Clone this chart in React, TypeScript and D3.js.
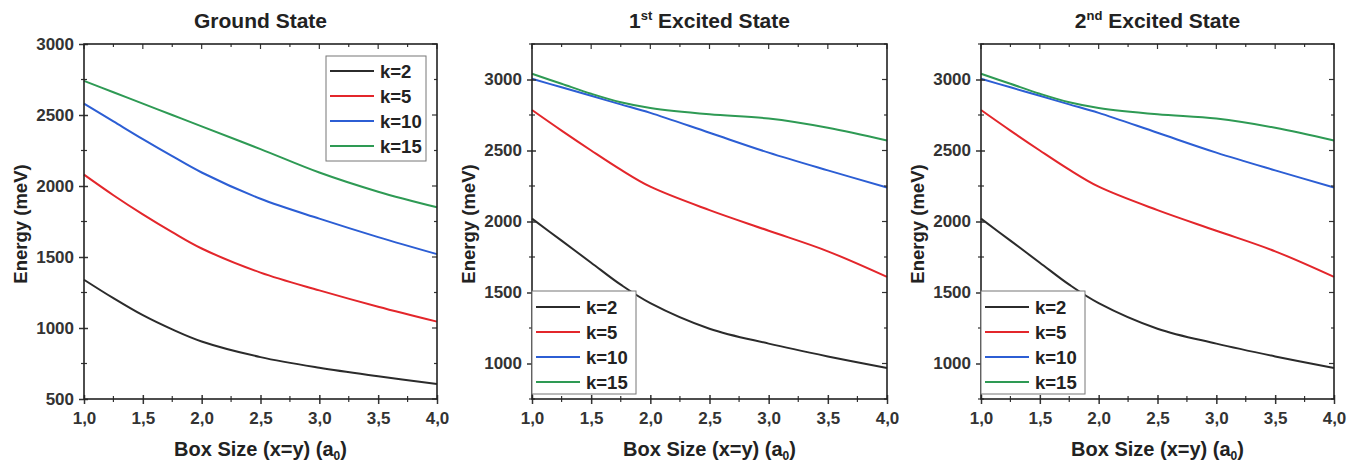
import React, { useEffect, useRef } from "react";
import * as d3 from "d3";

// box size (a0) sample points
const boxSize = [1, 1.25, 1.5, 1.75, 2, 2.5, 3, 3.5, 4];
const kLabels = ["k=2", "k=5", "k=10", "k=15"];
const kColors = ["#2b2b2b", "#e3262b", "#2c5ed4", "#2e9a54"];
const xTicks = [1, 1.5, 2, 2.5, 3, 3.5, 4];

// Ground state energies (meV)
const groundK2 = [1340, 1210, 1090, 990, 905, 795, 720, 660, 605];
const groundK5 = [2080, 1935, 1800, 1675, 1560, 1390, 1265, 1150, 1045];
const groundK10 = [2580, 2455, 2330, 2210, 2095, 1910, 1770, 1640, 1520];
const groundK15 = [2740, 2660, 2580, 2500, 2420, 2260, 2095, 1960, 1850];

// 1st excited state
const ex1K2 = [2020, 1865, 1710, 1555, 1425, 1245, 1140, 1050, 968];
const ex1K5 = [2785, 2640, 2500, 2365, 2245, 2080, 1935, 1790, 1610];
const ex1K10 = [3005, 2945, 2885, 2825, 2765, 2625, 2485, 2360, 2240];
const ex1K15 = [3040, 2970, 2900, 2840, 2800, 2755, 2725, 2660, 2570];

// 2nd excited state
const ex2K2 = [2020, 1865, 1710, 1555, 1425, 1245, 1140, 1050, 968];
const ex2K5 = [2785, 2640, 2500, 2365, 2245, 2080, 1935, 1790, 1610];
const ex2K10 = [3005, 2945, 2885, 2825, 2765, 2625, 2485, 2360, 2240];
const ex2K15 = [3040, 2970, 2900, 2840, 2800, 2755, 2725, 2660, 2570];

const groundYTicks = [500, 1000, 1500, 2000, 2500, 3000];
const excitedYTicks = [1000, 1500, 2000, 2500, 3000];

const FONT = "'Liberation Sans', Arial, sans-serif";
const TOP = 44;
const BOTTOM = 399;

const panels = [
  {
    title: ["Ground State"],
    series: [groundK2, groundK5, groundK10, groundK15],
    yDomain: [500, 3000],
    yTicks: groundYTicks,
    left: 84,
    right: 437,
    legend: { x: 326, y: 56, w: 100, h: 105, itemY: 71 },
  },
  {
    title: ["1", "st", " Excited State"],
    series: [ex1K2, ex1K5, ex1K10, ex1K15],
    yDomain: [750, 3250],
    yTicks: excitedYTicks,
    left: 532,
    right: 887,
    legend: { x: 532, y: 291, w: 104, h: 103, itemY: 307 },
  },
  {
    title: ["2", "nd", " Excited State"],
    series: [ex2K2, ex2K5, ex2K10, ex2K15],
    yDomain: [750, 3250],
    yTicks: excitedYTicks,
    left: 981,
    right: 1334,
    legend: { x: 981, y: 291, w: 104, h: 103, itemY: 307 },
  },
];

const fmtX = (d: number) => d3.format(".1f")(d).replace(".", ",");

export default function App() {
  const ref = useRef<SVGSVGElement>(null);

  useEffect(() => {
    const svg = d3.select(ref.current);
    svg.selectAll("*").remove();

    panels.forEach((p) => {
      const x = d3.scaleLinear().domain([1, 4]).range([p.left, p.right]);
      const y = d3.scaleLinear().domain(p.yDomain).range([BOTTOM, TOP]);
      const g = svg.append("g").attr("font-family", FONT);
      const cx = (p.left + p.right) / 2;

      const xMinor = d3.range(1.25, 4, 0.5);
      const yMinor = d3
        .range(p.yDomain[0], p.yDomain[1] + 1, 250)
        .filter((v) => v % 500 !== 0);

      // curves
      const line = d3
        .line<number>()
        .x((d, j) => x(boxSize[j]))
        .y((d) => y(d))
        .curve(d3.curveCatmullRom.alpha(0.5));
      p.series.forEach((vals, i) => {
        g.append("path")
          .datum(vals)
          .attr("d", line)
          .attr("fill", "none")
          .attr("stroke", kColors[i])
          .attr("stroke-width", 2);
      });

      // bottom axis
      const bx = g
        .append("g")
        .attr("transform", `translate(0,${BOTTOM})`)
        .call(d3.axisBottom(x).tickValues(xTicks).tickSizeOuter(0).tickFormat((d) => fmtX(+d)));
      bx.select(".domain").remove();
      bx.selectAll(".tick line").attr("y1", -4).attr("y2", 5).attr("stroke", "#333").attr("stroke-width", 1.5);
      bx.selectAll(".tick text")
        .attr("y", 13)
        .attr("font-size", 17)
        .attr("font-weight", "bold")
        .attr("fill", "#333")
        .attr("font-family", FONT);
      g.append("g")
        .selectAll("line")
        .data(xMinor)
        .join("line")
        .attr("x1", (d) => x(d))
        .attr("x2", (d) => x(d))
        .attr("y1", BOTTOM - 3)
        .attr("y2", BOTTOM + 3)
        .attr("stroke", "#333")
        .attr("stroke-width", 1.2);

      // left axis
      const ly = g
        .append("g")
        .attr("transform", `translate(${p.left},0)`)
        .call(d3.axisLeft(y).tickValues(p.yTicks).tickSizeOuter(0).tickFormat(d3.format("d")));
      ly.select(".domain").remove();
      ly.selectAll(".tick line").attr("x1", -5).attr("x2", 4).attr("stroke", "#333").attr("stroke-width", 1.5);
      ly.selectAll(".tick text")
        .attr("x", -10)
        .attr("font-size", 17)
        .attr("font-weight", "bold")
        .attr("fill", "#333")
        .attr("font-family", FONT);
      g.append("g")
        .selectAll("line")
        .data(yMinor)
        .join("line")
        .attr("x1", p.left - 3)
        .attr("x2", p.left + 3)
        .attr("y1", (d) => y(d))
        .attr("y2", (d) => y(d))
        .attr("stroke", "#333")
        .attr("stroke-width", 1.2);

      // mirrored top / right ticks
      g.append("g")
        .selectAll("line")
        .data([...xTicks, ...xMinor])
        .join("line")
        .attr("x1", (d) => x(d))
        .attr("x2", (d) => x(d))
        .attr("y1", TOP)
        .attr("y2", (d) => TOP + (xTicks.includes(d) ? 5 : 3))
        .attr("stroke", "#333")
        .attr("stroke-width", 1.2);
      g.append("g")
        .selectAll("line")
        .data([...p.yTicks, ...yMinor])
        .join("line")
        .attr("x1", p.right)
        .attr("x2", (d) => p.right - (p.yTicks.includes(d) ? 5 : 3))
        .attr("y1", (d) => y(d))
        .attr("y2", (d) => y(d))
        .attr("stroke", "#333")
        .attr("stroke-width", 1.2);

      // frame
      g.append("rect")
        .attr("x", p.left)
        .attr("y", TOP)
        .attr("width", p.right - p.left)
        .attr("height", BOTTOM - TOP)
        .attr("fill", "none")
        .attr("stroke", "#222")
        .attr("stroke-width", 1.6);

      // legend
      const lg = p.legend;
      g.append("rect")
        .attr("x", lg.x)
        .attr("y", lg.y)
        .attr("width", lg.w)
        .attr("height", lg.h)
        .attr("fill", "white")
        .attr("stroke", "#777")
        .attr("stroke-width", 1);
      kLabels.forEach((lab, i) => {
        const ly2 = lg.itemY + i * 25;
        g.append("line")
          .attr("x1", lg.x + 4)
          .attr("x2", lg.x + 48)
          .attr("y1", ly2)
          .attr("y2", ly2)
          .attr("stroke", kColors[i])
          .attr("stroke-width", 2);
        g.append("text")
          .attr("x", lg.x + 54)
          .attr("y", ly2)
          .attr("dy", "0.36em")
          .attr("font-size", 18.5)
          .attr("font-weight", "bold")
          .attr("fill", "#222")
          .text(lab);
      });

      // title
      const t = g
        .append("text")
        .attr("x", cx)
        .attr("y", 28)
        .attr("text-anchor", "middle")
        .attr("font-size", 21)
        .attr("font-weight", "bold")
        .attr("fill", "#222");
      if (p.title.length === 1) {
        t.text(p.title[0]);
      } else {
        t.append("tspan").text(p.title[0]);
        t.append("tspan").attr("font-size", 13).attr("dy", -8).text(p.title[1]);
        t.append("tspan").attr("dy", 8).text(p.title[2]);
      }

      // axis labels
      g.append("text")
        .attr("transform", `translate(${p.left - 57},224) rotate(-90)`)
        .attr("text-anchor", "middle")
        .attr("font-size", 18.5)
        .attr("font-weight", "bold")
        .attr("fill", "#222")
        .text("Energy (meV)");
      const xl = g
        .append("text")
        .attr("x", cx)
        .attr("y", 456)
        .attr("text-anchor", "middle")
        .attr("font-size", 20)
        .attr("font-weight", "bold")
        .attr("fill", "#222");
      xl.append("tspan").text("Box Size (x=y) (a");
      xl.append("tspan").attr("font-size", 12).attr("dy", 4).text("0");
      xl.append("tspan").attr("dy", -4).text(")");
    });
  }, []);

  return (
    <svg
      ref={ref}
      width={1365}
      height={464}
      style={{ position: "absolute", left: 0, top: 0, background: "white" }}
    />
  );
}
